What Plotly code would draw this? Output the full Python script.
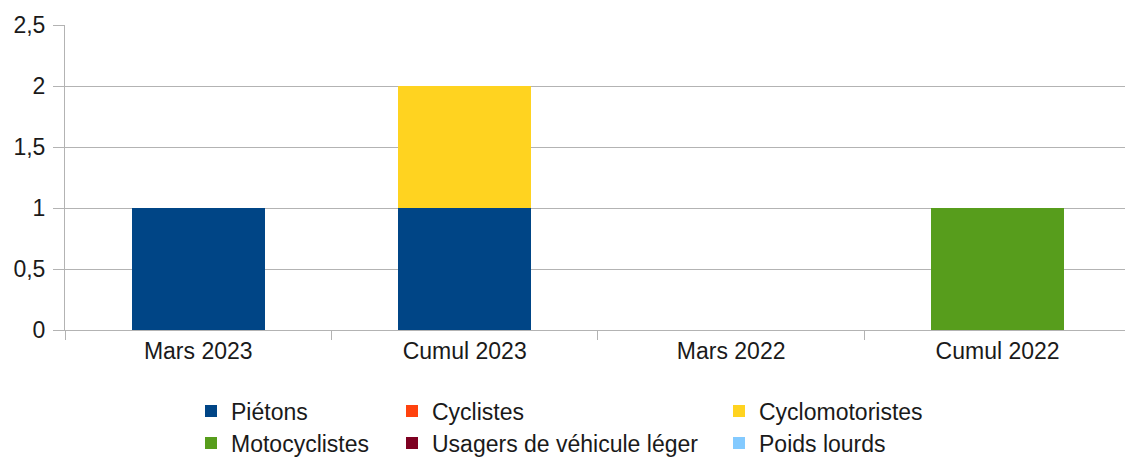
import plotly.graph_objects as go

categories = ["Mars 2023", "Cumul 2023", "Mars 2022", "Cumul 2022"]
series_names = ["Piétons", "Cyclistes", "Cyclomotoristes",
                "Motocyclistes", "Usagers de véhicule léger", "Poids lourds"]
pietons = [1, 1, 0, 0]
cyclistes = [0, 0, 0, 0]
cyclomotoristes = [0, 1, 0, 0]
motocyclistes = [0, 0, 0, 1]
usagers_vl = [0, 0, 0, 0]
poids_lourds = [0, 0, 0, 0]
y_ticks = [0, 0.5, 1, 1.5, 2, 2.5]
y_tick_labels = ["0", "0,5", "1", "1,5", "2", "2,5"]

values = [pietons, cyclistes, cyclomotoristes, motocyclistes, usagers_vl, poids_lourds]
colors = ["#004586", "#ff420e", "#ffd320", "#579d1c", "#7e0021", "#83caff"]

FONT = "Liberation Sans, Arial, sans-serif"
TXT = "#1a1a1a"
GRID = "#b3b3b3"
FS = 23

fig = go.Figure()
legend_ids = ["legend", "legend2", "legend3", "legend4", "legend5", "legend6"]
for name, vals, col, lg in zip(series_names, values, colors, legend_ids):
    fig.add_trace(go.Bar(x=categories, y=vals, name=name, marker_color=col,
                         marker_line_width=0, legend=lg))

# legend positions (paper coords): columns & rows
W = 1125 - 65
H = 457 - 25 - 127
col_px = [191, 392, 719]
row_px = [411, 443]
pos = [(0, 0), (1, 0), (2, 0), (0, 1), (1, 1), (2, 1)]
layout_legends = {}
for lg, (c, r) in zip(legend_ids, pos):
    layout_legends[lg] = dict(
        x=(col_px[c] - 65) / W, y=(330 - row_px[r]) / H,
        xanchor="left", yanchor="middle", orientation="v",
        font=dict(family=FONT, size=FS, color=TXT),
        bgcolor="rgba(0,0,0,0)", borderwidth=0, itemclick=False,
        tracegroupgap=0,
    )

fig.update_layout(
    width=1125, height=457,
    margin=dict(l=65, r=0, t=25, b=127, autoexpand=False),
    paper_bgcolor="white", plot_bgcolor="white",
    barmode="stack", bargap=0.5,
    font=dict(family=FONT, size=FS, color=TXT),
    showlegend=True,
    **layout_legends,
)
fig.update_xaxes(
    type="category", range=[-0.5, 3.478],
    showline=True, linecolor=GRID, linewidth=1,
    ticks="outside", tickson="boundaries", ticklen=9, tickcolor=GRID,
    showgrid=False, tickfont=dict(family=FONT, size=FS, color=TXT),
)
fig.update_yaxes(
    range=[0, 2.5], tickvals=y_ticks, ticktext=y_tick_labels,
    showline=True, linecolor=GRID, linewidth=1,
    showgrid=True, gridcolor=GRID, gridwidth=1,
    zeroline=False,
    ticks="outside", ticklen=11, tickcolor=GRID,
    tickfont=dict(family=FONT, size=FS, color=TXT),
    ticklabelstandoff=3,
)

fig.write_html(
    "out.html",
    config={"displayModeBar": False},
    post_script="document.body.style.margin='0';document.body.style.overflow='hidden';"
                "document.documentElement.style.overflow='hidden';",
)
